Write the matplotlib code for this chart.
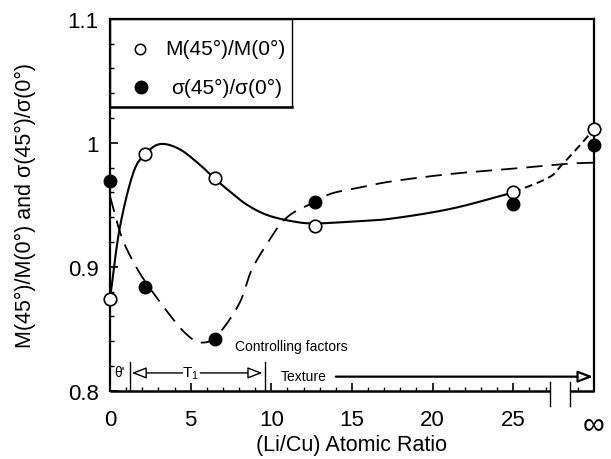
import numpy as np
import matplotlib
matplotlib.use("Agg")
import matplotlib.pyplot as plt
from matplotlib.patches import Rectangle
from matplotlib.ticker import FixedLocator

plt.rcParams['font.family'] = ['Liberation Sans', 'DejaVu Sans']
plt.rcParams['mathtext.fontset'] = 'custom'
plt.rcParams['mathtext.rm'] = 'Liberation Sans'
plt.rcParams['mathtext.it'] = 'Liberation Sans:italic'

# ---- data points ----
ratio = [0, 2.2, 6.5, 12.7, 25, 30]          # 30 stands for infinity
m_ratio = [0.874, 0.991, 0.972, 0.933, 0.960, 1.011]
s_ratio = [0.969, 0.884, 0.842, 0.952, 0.951, 0.998]

# ---- hand-drawn guide curves (knots) ----
m_curve_x = [0, 0.6, 1.45, 2.2, 3.1, 4.3, 5.6, 6.5, 7.6, 8.5, 9.7, 11.2, 12.7, 15.5, 17.5, 21.2, 25]
m_curve_y = [0.874, 0.931, 0.976, 0.991, 0.999, 0.995, 0.982, 0.971, 0.959, 0.950, 0.942, 0.937, 0.935, 0.937, 0.939, 0.947, 0.960]
m_tail_x = [25, 27.2, 28.0, 29.2, 30]
m_tail_y = [0.960, 0.972, 0.982, 0.999, 1.011]
s_curve_x = [0, 0.7, 1.45, 2.3, 3.9, 4.8, 5.6, 6.6, 8.0, 8.8, 9.95, 10.6, 11.4, 12.65, 13.7, 15.3, 17.5, 21.2, 24.8, 28.2, 30]
s_curve_y = [0.957, 0.925, 0.904, 0.886, 0.858, 0.845, 0.839, 0.844, 0.870, 0.898, 0.923, 0.935, 0.944, 0.952, 0.959, 0.9635, 0.969, 0.975, 0.979, 0.983, 0.984]

xticks = [0, 5, 10, 15, 20, 25, 30]
xticklabels = ['0', '5', '10', '15', '20', '25', '\u221e']
yticks = [0.8, 0.9, 1.0, 1.1]
yticklabels = ['0.8', '0.9', '1', '1.1']


def smooth(xs, ys, n=20):
    p = np.column_stack([xs, ys]).astype(float)
    p = np.vstack([2 * p[0] - p[1], p, 2 * p[-1] - p[-2]])
    out = []
    t = np.linspace(0, 1, n, endpoint=False)
    for i in range(1, len(p) - 2):
        p0, p1, p2, p3 = p[i - 1], p[i], p[i + 1], p[i + 2]
        tt = t[:, None]
        seg = 0.5 * ((2 * p1) + (-p0 + p2) * tt + (2 * p0 - 5 * p1 + 4 * p2 - p3) * tt ** 2
                     + (-p0 + 3 * p1 - 3 * p2 + p3) * tt ** 3)
        out.append(seg)
    out.append(p[-2][None, :])
    out = np.vstack(out)
    return out[:, 0], out[:, 1]


fig = plt.figure(figsize=(6.11, 4.6), dpi=100)
ax = fig.add_axes([0.180, 0.148, 0.792, 0.809])
ax.set_xlim(0, 30)
ax.set_ylim(0.8, 1.1)

cx, cy = smooth(m_curve_x, m_curve_y)
ax.plot(cx, cy, color='black', lw=1.5, solid_capstyle='round')
tx, ty = smooth(m_tail_x, m_tail_y)
ax.plot(tx, ty, color='black', lw=1.4, dashes=(4, 2.5))
sx, sy = smooth(s_curve_x, s_curve_y)
ax.plot(sx, sy, color='black', lw=1.3, dashes=(9, 5))

ax.plot(ratio, m_ratio, 'o', ms=9, mfc='white', mec='black', mew=1.2, clip_on=False, zorder=5)
ax.plot(ratio, s_ratio, 'o', ms=9, mfc='black', mec='black', clip_on=False, zorder=5)

# spines and ticks
for s in ['left', 'top', 'right']:
    ax.spines[s].set_linewidth(1.6)
ax.spines['bottom'].set_visible(False)
trans = ax.get_xaxis_transform()
ax.plot([0, 27.3], [0, 0], color='black', lw=1.8, transform=trans, clip_on=False, solid_capstyle='butt')
ax.plot([28.5, 30], [0, 0], color='black', lw=1.8, transform=trans, clip_on=False, solid_capstyle='butt')
for bx in [27.3, 28.5]:
    ax.plot([bx, bx], [-0.04, 0.025], color='black', lw=1.0, transform=trans, clip_on=False)

ax.set_xticks(xticks)
ax.set_xticklabels(xticklabels)
ax.set_yticks(yticks)
ax.set_yticklabels(yticklabels)
ax.xaxis.set_minor_locator(FixedLocator([i for i in range(1, 30) if i % 5 and i != 28]))
ax.yaxis.set_minor_locator(FixedLocator(list(np.arange(0.82, 1.1, 0.02))))
ax.tick_params(which='both', direction='in', top=False, right=False, labelsize=16)
ax.tick_params(which='major', length=6, width=1.2)
ax.tick_params(which='minor', length=3, width=1.0)
ax.tick_params(axis='x', which='major', pad=13)
ax.tick_params(axis='y', which='major', pad=8)
ax.xaxis.get_ticklabels()[-1].set_fontsize(22)

ax.set_xlabel('(Li/Cu) Atomic Ratio', fontsize=15.5)
ax.xaxis.set_label_coords(0.5, -0.115)
ax.set_ylabel('M(45\u00b0)/M(0\u00b0) and \u03c3(45\u00b0)/\u03c3(0\u00b0)', fontsize=15.5)
ax.yaxis.set_label_coords(-0.152, 0.5)

# legend box
ax.add_patch(Rectangle((0, 1.029), 11.3, 0.071, fill=False, lw=1.0, ec='black', clip_on=False, zorder=6))
ax.plot([0, 11.3], [1.029, 1.029], color='black', lw=1.8, zorder=6)
ax.plot([1.85], [1.076], 'o', ms=7.5, mfc='white', mec='black', mew=1.1, zorder=7)
ax.plot([1.95], [1.045], 'o', ms=9, mfc='black', mec='black', zorder=7)
ax.text(3.4, 1.076, 'M(45\u00b0)/M(0\u00b0)', fontsize=15, va='center', ha='left', zorder=7)
ax.text(3.8, 1.045, '\u03c3(45\u00b0)/\u03c3(0\u00b0)', fontsize=15, va='center', ha='left', zorder=7)

# controlling factors annotation
ax.text(7.75, 0.8365, 'Controlling factors', fontsize=10, va='center', ha='left')
for bx in [1.27, 9.58]:
    ax.plot([bx, bx], [0.8, 0.823], color='black', lw=1.0)
ax.text(0.6, 0.8155, "\u03b8'", fontsize=10, ha='center', va='center')
ax.text(5.0, 0.8145, 'T$_1$', fontsize=11, ha='center', va='center')
ap = dict(arrowstyle='-|>,head_length=0.9,head_width=0.35', fc='white', ec='black', lw=1.0, shrinkA=0, shrinkB=0)
ax.annotate('', xy=(1.35, 0.8145), xytext=(4.5, 0.8145), arrowprops=ap)
ax.annotate('', xy=(9.45, 0.8145), xytext=(5.6, 0.8145), arrowprops=ap)
ax.text(10.6, 0.812, 'Texture', fontsize=10, ha='left', va='center')
ax.annotate('', xy=(29.95, 0.8115), xytext=(14.0, 0.8115), arrowprops=dict(ap, lw=1.6))

fig.savefig('out.png', dpi=100)
